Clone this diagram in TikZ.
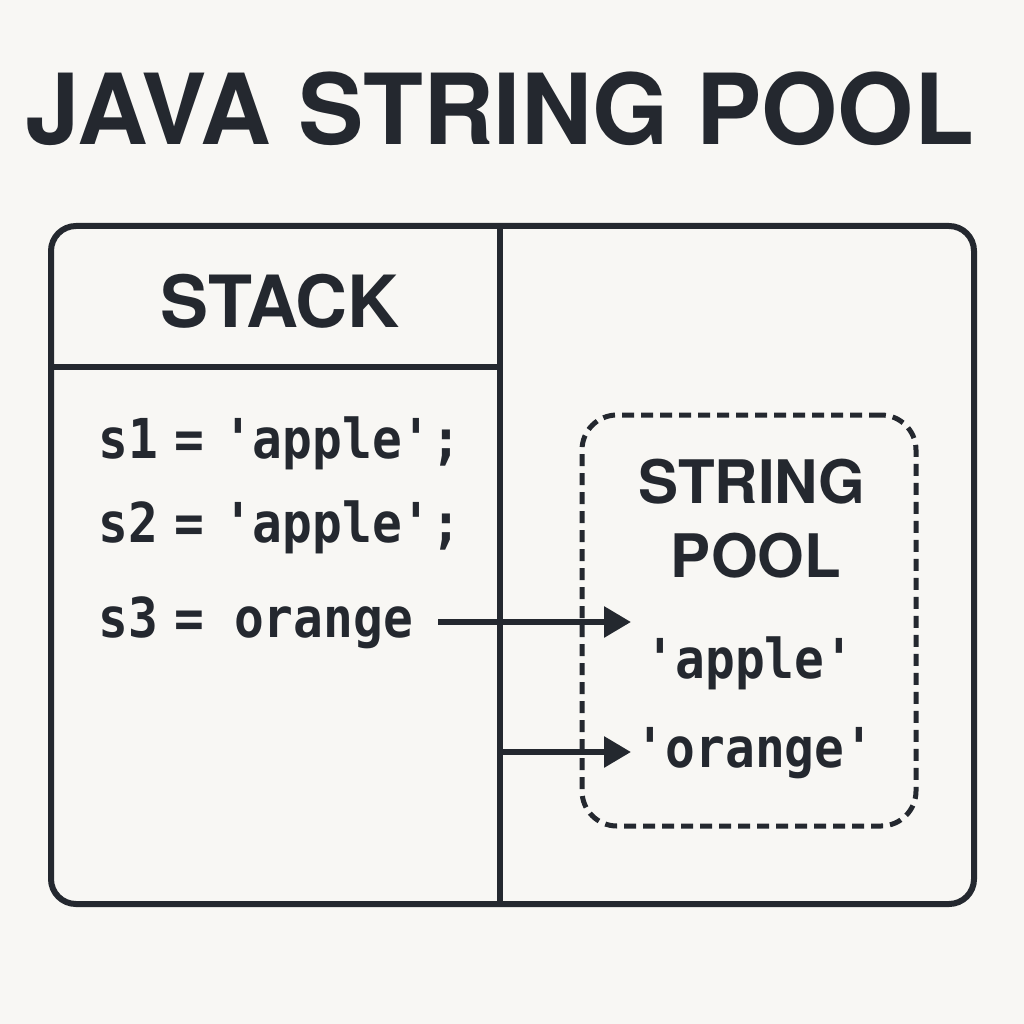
\documentclass[tikz,border=0pt]{standalone}
\usepackage{fontspec}
\setmainfont{TeX Gyre Heros}
\newfontfamily\codefont{DejaVu Sans Mono}[FakeStretch=0.9,Ligatures=TeXOff]
\usetikzlibrary{arrows.meta}
\definecolor{ink}{HTML}{24282F}
\definecolor{bg}{HTML}{F8F7F4}
\begin{document}
\begin{tikzpicture}[x=1pt,y=-1pt,
  frameline/.style={draw=ink, line width=6pt},
  codetext/.style={text=ink, inner sep=0pt, font=\codefont\bfseries\fontsize{55}{60}\selectfont},
  headtext/.style={text=ink, inner sep=0pt},
  ptr/.style={draw=ink, line width=6pt, -{Triangle[length=27pt,width=30pt]}}
]
\fill[bg] (0,0) rectangle (1024,1024);
\useasboundingbox (0,0) rectangle (1024,1024);

\node[headtext, anchor=base, font=\bfseries\fontsize{98}{98}\selectfont] (title) at (500,145) {JAVA STRING POOL};

\node[frameline, rounded corners=25pt, minimum width=923pt, minimum height=678pt, inner sep=0pt] (frame) at (512.5,565) {};
\coordinate (dtop) at (500,226);
\coordinate (dbot) at (500,904);
\coordinate (hl) at (51,367);
\coordinate (hr) at (500,367);
\draw[frameline] (dtop) -- (dbot);
\draw[frameline] (hl) -- (hr);

\node[headtext, anchor=base, font=\bfseries\fontsize{72}{72}\selectfont] (stack) at (280,327) {STACK};

\node[codetext, anchor=base west] (s1) at (98,458) {s1\kern-13pt\ =\kern-11pt\ 'apple';};
\node[codetext, anchor=base west] (s2) at (98,542) {s2\kern-13pt\ =\kern-11pt\ 'apple';};
\node[codetext, anchor=base west] (s3) at (98,637) {s3\kern-13pt\ = orange};

\node[draw=ink, line width=5pt, dash pattern=on 12pt off 7pt, rounded corners=35pt, minimum width=334pt, minimum height=411pt, inner sep=0pt] (pool) at (749,620.5) {};
\node[headtext, anchor=base, font=\bfseries\fontsize{60}{60}\selectfont] (pt1) at (752,503) {STRING};
\node[headtext, anchor=base, font=\bfseries\fontsize{60}{60}\selectfont] (pt2) at (756,577) {POOL};
\node[codetext, anchor=base] (papple) at (750,678) {'apple'};
\node[codetext, anchor=base] (porange) at (755,767) {'orange'};

\coordinate (a1s) at (438,622);
\coordinate (a1e) at (631,622);
\coordinate (a2s) at (500,752);
\coordinate (a2e) at (631,752);
\draw[ptr] (a1s) -- (a1e);
\draw[ptr] (a2s) -- (a2e);
\end{tikzpicture}
\end{document}
